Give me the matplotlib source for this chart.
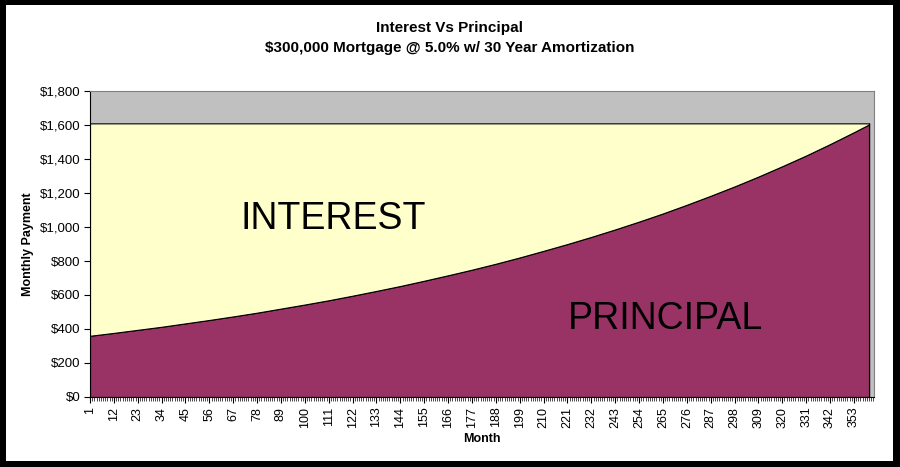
import numpy as np
from matplotlib import pyplot as plt
from matplotlib.ticker import FuncFormatter, MultipleLocator, FixedLocator
from matplotlib.patches import Rectangle

plt.rcParams['font.family'] = ['Liberation Sans', 'DejaVu Sans']

# values at the labelled months
months = [1, 12, 23, 34, 45, 56, 67, 78, 89, 100, 111, 122, 133, 144, 155, 166,
          177, 188, 199, 210, 221, 232, 243, 254, 265, 276, 287, 298, 309, 320,
          331, 342, 353, 360]
principal = [360, 377, 395, 413, 433, 453, 474, 496, 520, 544, 569, 596, 624, 653,
             684, 716, 749, 784, 821, 860, 900, 942, 986, 1032, 1080, 1131, 1184,
             1239, 1297, 1358, 1421, 1488, 1558, 1604]
interest = [1250, 1233, 1215, 1197, 1177, 1157, 1136, 1114, 1090, 1066, 1041, 1014,
            986, 957, 926, 894, 861, 826, 789, 750, 710, 668, 624, 578, 530, 479,
            426, 371, 313, 252, 189, 122, 52, 6]
tick_months = list(range(1, 361, 11))

fig = plt.figure(figsize=(9, 4.67), dpi=100, facecolor='black')
# white card inside the black frame
fig.patches.append(Rectangle((6 / 900, 6 / 467), 887 / 900, 456 / 467,
                             transform=fig.transFigure, facecolor='white',
                             edgecolor='none', zorder=-1))

ax = fig.add_axes([0.1, 0.15, 0.871, 0.655])
ax.set_facecolor('#C0C0C0')

ax.stackplot(months, principal, interest, colors=['#993366', '#FFFFCC'],
             edgecolor='black', linewidth=0.8)
# right edge of the areas
ax.vlines(months[-1], 0, principal[-1] + interest[-1], color='black', lw=0.8)

ax.set_xlim(1, 362.2)
ax.set_ylim(0, 1800)
ax.yaxis.set_major_locator(MultipleLocator(200))
ax.yaxis.set_major_formatter(FuncFormatter(lambda v, p: '${:,.0f}'.format(v)))
ax.xaxis.set_major_locator(FixedLocator(tick_months))
ax.xaxis.set_minor_locator(MultipleLocator(1))
ax.tick_params(axis='x', which='major', labelrotation=90, labelsize=9,
               length=4, width=0.8, pad=3)
ax.tick_params(axis='x', which='minor', length=3, width=0.5)
ax.tick_params(axis='y', labelsize=9.5, length=4, width=0.8, pad=3)
for s in ['top', 'right']:
    ax.spines[s].set_color('#808080')
    ax.spines[s].set_linewidth(0.8)

ax.set_ylabel('Monthly Payment', fontsize=9, fontweight='bold', labelpad=4)
ax.set_xlabel('Month', fontsize=9, fontweight='bold', labelpad=4)

fig.text(0.5, 0.940, 'Interest Vs Principal', ha='center', va='center',
         fontsize=11, fontweight='bold')
fig.text(0.5, 0.897, '$300,000 Mortgage @ 5.0% w/ 30 Year Amortization',
         ha='center', va='center', fontsize=11, fontweight='bold')

ax.text(113, 1050, 'INTEREST', ha='center', va='center', fontsize=27)
ax.text(266, 460, 'PRINCIPAL', ha='center', va='center', fontsize=27)

fig.savefig('out.png', dpi=100, facecolor='black')
